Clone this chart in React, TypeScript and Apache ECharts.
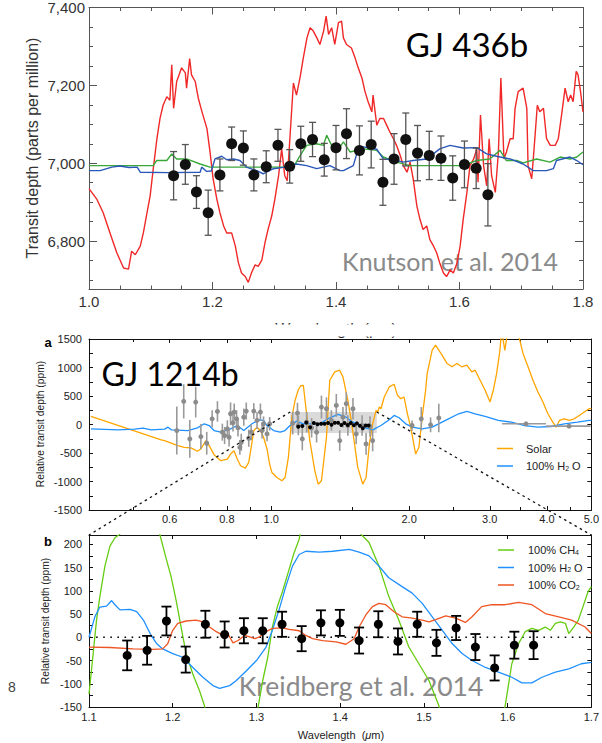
import React, { useEffect, useRef } from "react";
import * as echarts from "echarts";

// ---------------- Panel 1: GJ 436b (Knutson et al. 2014) ----------------
const gj436Wavelength = [1.137, 1.156, 1.174, 1.193, 1.212, 1.231, 1.25, 1.267, 1.287, 1.306, 1.325, 1.343, 1.362, 1.381, 1.4, 1.417, 1.438, 1.457, 1.476, 1.494, 1.513, 1.532, 1.551, 1.57, 1.589, 1.608, 1.627, 1.646];
const gj436Depth = [6968, 6997, 6926, 6873, 6970, 7050, 7039, 6970, 6991, 7046, 6992, 7050, 7061, 7009, 7040, 7076, 7033, 7048, 6951, 7011, 7061, 7026, 7020, 7013, 6962, 6997, 6987, 6919];
const gj436Error = [62, 51, 42, 58, 41, 43, 44, 41, 41, 41, 43, 45, 44, 42, 57, 64, 63, 60, 59, 65, 68, 71, 62, 57, 57, 60, 52, 80];
const gj436RedModel = [
  [1.0, 6935], [1.0125, 6908], [1.023, 6873], [1.034, 6821], [1.045, 6770], [1.056, 6731], [1.064, 6728], [1.069, 6774], [1.075, 6765], [1.083, 6787], [1.088, 6821], [1.093, 6865], [1.099, 6916], [1.104, 6985], [1.11, 7063], [1.115, 7115], [1.12, 7149], [1.126, 7171], [1.131, 7162], [1.134, 7253], [1.137, 7141], [1.142, 7210], [1.15, 7245], [1.156, 7232], [1.158, 7193], [1.163, 7269], [1.166, 7227], [1.172, 7210], [1.177, 7167], [1.183, 7132], [1.191, 7089], [1.196, 7029], [1.201, 6960], [1.207, 6908], [1.212, 6873], [1.218, 6839], [1.223, 6821], [1.231, 6821], [1.237, 6787], [1.242, 6744], [1.247, 6718], [1.253, 6709], [1.258, 6694], [1.263, 6718], [1.269, 6739], [1.274, 6735], [1.28, 6752], [1.285, 6796], [1.29, 6830], [1.296, 6865], [1.301, 6908], [1.307, 6968], [1.312, 7037], [1.317, 6968], [1.321, 6955], [1.326, 7081], [1.331, 7206], [1.336, 7175], [1.342, 7222], [1.347, 7270], [1.353, 7322], [1.358, 7348], [1.363, 7340], [1.369, 7322], [1.374, 7305], [1.38, 7340], [1.384, 7378], [1.388, 7331], [1.393, 7348], [1.398, 7305], [1.404, 7361], [1.409, 7365], [1.412, 7322], [1.417, 7305], [1.425, 7296], [1.431, 7270], [1.436, 7245], [1.442, 7219], [1.447, 7184], [1.452, 7158], [1.458, 7132], [1.46, 7175], [1.466, 7098], [1.471, 7115], [1.477, 7115], [1.482, 7098], [1.487, 7081], [1.493, 7063], [1.498, 7046], [1.504, 7020], [1.509, 6994], [1.515, 6977], [1.52, 7003], [1.525, 6960], [1.531, 6890], [1.536, 6856], [1.541, 6830], [1.547, 6839], [1.552, 6804], [1.558, 6787], [1.563, 6770], [1.568, 6744], [1.574, 6718], [1.579, 6709], [1.585, 6726], [1.59, 6718], [1.596, 6744], [1.601, 6787], [1.606, 6856], [1.612, 6925], [1.617, 6994], [1.623, 7011], [1.628, 7037], [1.63, 6951], [1.634, 7124], [1.639, 6994], [1.644, 6942], [1.648, 7063], [1.652, 6968], [1.658, 6925], [1.663, 7029], [1.667, 7219], [1.672, 7011], [1.676, 7029], [1.682, 7063], [1.687, 7063], [1.69, 7141], [1.695, 7184], [1.703, 7193], [1.709, 7141], [1.711, 6994], [1.717, 6960], [1.722, 7063], [1.726, 7149], [1.73, 7132], [1.736, 7141], [1.741, 7063], [1.747, 7046], [1.755, 7046], [1.76, 7063], [1.766, 7132], [1.771, 7193], [1.776, 7158], [1.78, 7175], [1.784, 7158], [1.789, 7236], [1.792, 7227], [1.796, 7184], [1.8, 7132],
];
const gj436BlueModel = [
  [1.0, 6981], [1.018, 6981], [1.037, 6990], [1.05, 6993], [1.065, 6989], [1.078, 6990], [1.083, 6977], [1.13, 6976], [1.18, 6977], [1.1825, 6990], [1.1906, 6979], [1.198, 6980], [1.204, 7011], [1.215, 7018], [1.223, 7009], [1.234, 7011], [1.2445, 7007], [1.255, 6990], [1.2716, 6981], [1.282, 6973], [1.2985, 6986], [1.3174, 6990], [1.336, 6998], [1.3525, 6994], [1.3687, 6986], [1.39, 6994], [1.4065, 6981], [1.412, 6981], [1.428, 6994], [1.436, 7037], [1.444, 7042], [1.466, 7036], [1.4766, 7011], [1.493, 7009], [1.509, 7003], [1.525, 7007], [1.547, 7011], [1.568, 7037], [1.5846, 7046], [1.606, 7039], [1.628, 7040], [1.644, 7024], [1.66, 7018], [1.682, 7011], [1.703, 6998], [1.7195, 6981], [1.741, 6981], [1.752, 6986], [1.757, 7007], [1.779, 7016], [1.79, 7007], [1.8, 6996],
];
const gj436GreenModel = [
  [1.0, 6994], [1.05, 6994], [1.104, 6994], [1.1096, 7007], [1.126, 7007], [1.134, 7024], [1.142, 7011], [1.158, 7011], [1.18, 6998], [1.196, 6990], [1.26, 6990], [1.331, 6990], [1.342, 7020], [1.3525, 7046], [1.369, 7050], [1.3795, 7046], [1.385, 7072], [1.3956, 7037], [1.4065, 7042], [1.412, 7055], [1.4227, 7029], [1.444, 7037], [1.466, 7033], [1.4766, 7016], [1.498, 7003], [1.52, 6994], [1.56, 6994], [1.606, 6994], [1.628, 7007], [1.649, 7011], [1.6656, 7033], [1.676, 7007], [1.6926, 7007], [1.703, 7001], [1.725, 7011], [1.7466, 7003], [1.763, 7016], [1.779, 7011], [1.79, 7016], [1.8, 7029],
];
const gj436XTicks = [1.0, 1.2, 1.4, 1.6, 1.8];
const gj436YTicks = [6800, 7000, 7200, 7400];

// ---------------- Panel a: GJ 1214b, broad spectrum ----------------
const solarModel = [
  [0.404, 141], [0.575, -270], [0.585, -282], [0.625, -370], [0.646, -400], [0.668, -411], [0.69, -470], [0.702, -429], [0.72, -282], [0.732, -370], [0.75, -529], [0.776, -635], [0.802, -606], [0.815, -518], [0.829, -459], [0.843, -606], [0.857, -723], [0.878, -765], [0.893, -664], [0.904, -400], [0.916, -106], [0.931, -47], [0.947, -106], [0.962, -224], [0.979, -429], [0.992, -694], [1.003, -841], [1.029, -929], [1.055, -988], [1.072, -929], [1.09, -576], [1.109, 129], [1.127, 420], [1.146, 610], [1.16, 680], [1.175, 688], [1.19, 306], [1.214, -282], [1.245, -812], [1.266, -1047], [1.287, -988], [1.32, -224], [1.342, 776], [1.376, 924], [1.411, 953], [1.434, 835], [1.47, 424], [1.495, 71], [1.52, -341], [1.545, -753], [1.584, -1047], [1.611, -929], [1.638, -341], [1.665, 12], [1.694, 247], [1.707, 218], [1.722, 306], [1.736, 277], [1.765, 482], [1.81, 659], [1.855, 706], [1.886, 512], [1.918, 453], [1.95, 482], [1.983, 188], [2.016, -47], [2.067, -518], [2.101, -400], [2.136, 129], [2.173, 600], [2.19, 894], [2.246, 1306], [2.284, 1394], [2.322, 1306], [2.36, 1218], [2.42, 1071], [2.481, 1012], [2.543, 1071], [2.607, 1012], [2.674, 1041], [2.741, 924], [2.788, 953], [2.858, 776], [2.931, 600], [3.004, 394], [3.054, 600], [3.105, 894], [3.158, 1306], [3.183, 1650], [3.237, 1300], [3.291, 1700], [3.43, 1650], [3.488, 1482], [3.546, 1247], [3.636, 1012], [3.728, 776], [3.822, 571], [3.919, 394], [4.018, 188], [4.119, 41], [4.188, -47], [4.259, 71], [4.365, 100], [4.475, 71], [4.588, 100], [4.705, 159], [4.824, 218], [4.945, 277], [5.0, 280],
];
const waterModelWide = [
  [0.404, -76], [0.463, -94], [0.503, -82], [0.525, -65], [0.547, -94], [0.585, -82], [0.595, -47], [0.605, -94], [0.657, -106], [0.69, -59], [0.714, 12], [0.732, -18], [0.75, -106], [0.776, -135], [0.815, -76], [0.843, -18], [0.871, -106], [0.908, 12], [0.939, 82], [0.962, 71], [0.979, -18], [1.012, -106], [1.046, -135], [1.072, -106], [1.099, -18], [1.137, 59], [1.175, 12], [1.214, 12], [1.276, 12], [1.342, 118], [1.399, 176], [1.458, 129], [1.507, 41], [1.584, -47], [1.665, -94], [1.736, -18], [1.81, 82], [1.855, 159], [1.902, 118], [1.966, 12], [2.033, -47], [2.136, -76], [2.246, -47], [2.401, 71], [2.566, 188], [2.674, 229], [2.788, 188], [2.931, 141], [3.131, 71], [3.345, 41], [3.577, -18], [3.822, -47], [4.083, -35], [4.365, 12], [4.666, 41], [4.945, 71], [5.0, 72],
];
// [wavelength, depth, error]
const grayPoints = [
  [0.622, -106, 420], [0.644, 406, 300], [0.664, -253, 330], [0.684, 394, 270], [0.702, -212, 220], [0.723, -329, 200], [0.743, 100, 150], [0.763, 229, 180], [0.782, -135, 150], [0.791, -194, 150], [0.802, -76, 150], [0.809, -224, 160], [0.815, 188, 200], [0.825, 29, 150], [0.83, 218, 150], [0.84, 100, 150], [0.846, -59, 150], [0.854, -400, 130], [0.86, -312, 150], [0.871, 129, 150], [0.882, 235, 150], [0.893, -241, 150], [0.904, -135, 140], [0.916, 235, 140], [0.931, 71, 150], [0.947, 218, 150], [0.955, -106, 140], [0.962, 12, 130], [0.979, -165, 130], [0.992, 12, 120],
  [1.114, 24, 200], [1.141, 200, 180], [1.146, -18, 170], [1.169, -253, 200], [1.195, 41, 180], [1.225, -59, 170], [1.256, -135, 180], [1.287, 306, 200], [1.32, 276, 200], [1.353, 71, 180], [1.387, 335, 200], [1.411, -282, 180], [1.434, 129, 180], [1.458, 365, 200], [1.47, -18, 180], [1.508, 276, 190], [1.533, -165, 180], [1.579, -18, 180], [1.611, -341, 190], [1.643, -35, 180], [1.665, -282, 190],
  [2.03, -18, 90], [2.126, 100, 206], [2.228, -6, 130], [2.322, 115, 250],
];
// [lower wavelength, upper wavelength, centre wavelength, depth]
const wideBins = [
  [3.19, 3.98, 3.6, 12],
  [3.98, 4.98, 4.47, -29],
];
const panelAXTicks = [0.6, 0.8, 1.0, 2.0, 3.0, 4.0, 5.0];
const panelAXMinor = [0.5, 0.7, 0.9, 1.5, 2.5, 3.5, 4.5];
const panelAYTicks = [-1500, -1000, -500, 0, 500, 1000, 1500];

// ---------------- Panel b: GJ 1214b (Kreidberg et al. 2014) ----------------
const kreidbergWavelength = [1.1456, 1.1694, 1.1925, 1.2155, 1.239, 1.262, 1.285, 1.3075, 1.3306, 1.354, 1.377, 1.3996, 1.4226, 1.4456, 1.469, 1.492, 1.515, 1.5385, 1.5615, 1.5845, 1.608, 1.631];
const kreidbergDepth = [-39, -28, 35, -48, 28, 6, 14, 14, 28, -3, 31, 31, -7, 28, -9, 28, -12, 20, -21, -66, -17, -17];
const kreidbergError = [32, 31, 31, 28, 29, 28, 27, 27, 27, 27, 27, 28, 28, 28, 28, 27, 28, 26, 28, 27, 29, 30];
const ch4Model = [
  [1.1, -122], [1.105, -35], [1.109, 37], [1.113, 88], [1.119, 153], [1.125, 196], [1.131, 214], [1.137, 222], [1.15, 330], [1.175, 330], [1.1845, 222], [1.1925, 167], [1.198, 131], [1.204, 80], [1.21, 22], [1.216, -35], [1.224, -79], [1.232, -115], [1.238, -148], [1.25, -260], [1.29, -260], [1.3015, -155], [1.3075, -93], [1.3135, -43], [1.319, 22], [1.325, 66], [1.331, 98], [1.339, 146], [1.345, 182], [1.351, 211], [1.365, 330], [1.41, 330], [1.4246, 222], [1.4345, 204], [1.4464, 153], [1.458, 88], [1.47, 37], [1.482, -21], [1.494, -57], [1.506, -93], [1.518, -148], [1.53, -260], [1.585, -260], [1.597, -148], [1.605, -57], [1.613, -14], [1.621, 12], [1.629, 19], [1.637, 15], [1.645, 22], [1.651, 15], [1.657, 30], [1.663, 33], [1.669, 30], [1.673, 8], [1.679, 22], [1.6845, 37], [1.69, 66], [1.696, 98], [1.7, 109],
];
const h2oModel = [
  [1.1, 0], [1.107, 44], [1.113, 65], [1.121, 67], [1.127, 79], [1.131, 70], [1.137, 59], [1.149, 60], [1.157, 55], [1.165, 37], [1.173, 8], [1.181, -14], [1.188, -25], [1.2, -35], [1.212, -43], [1.224, -65], [1.236, -86], [1.248, -104], [1.256, -110], [1.268, -104], [1.276, -93], [1.288, -72], [1.3, -50], [1.3115, -21], [1.319, 15], [1.327, 59], [1.335, 109], [1.343, 153], [1.351, 178], [1.359, 185], [1.375, 183], [1.391, 185], [1.411, 189], [1.4226, 183], [1.4345, 175], [1.4464, 153], [1.458, 128], [1.474, 109], [1.486, 95], [1.498, 73], [1.51, 44], [1.522, 15], [1.534, -14], [1.5456, -35], [1.5575, -50], [1.5735, -65], [1.589, -75], [1.605, -86], [1.617, -98], [1.629, -98], [1.641, -86], [1.657, -75], [1.673, -68], [1.688, -57], [1.7, -54],
];
const co2Model = [
  [1.1, -21], [1.125, -22], [1.153, -25], [1.1765, -26], [1.188, -25], [1.194, -14], [1.2, 15], [1.206, 30], [1.216, 35], [1.228, 37], [1.236, 33], [1.244, 22], [1.252, 12], [1.26, 4], [1.266, 7], [1.272, -12], [1.278, -7], [1.286, 4], [1.292, 1], [1.298, -3], [1.3036, 1], [1.3115, 12], [1.319, 19], [1.331, 20], [1.339, 17], [1.351, 14], [1.359, 4], [1.367, -3], [1.379, -7], [1.395, -10], [1.4068, -15], [1.4167, -3], [1.4226, 22], [1.4306, 48], [1.4385, 66], [1.4464, 73], [1.4544, 70], [1.4643, 55], [1.474, 44], [1.486, 41], [1.498, 37], [1.506, 33], [1.514, 38], [1.526, 46], [1.538, 41], [1.5496, 32], [1.5575, 44], [1.569, 66], [1.581, 70], [1.597, 70], [1.613, 75], [1.629, 70], [1.645, 51], [1.661, 44], [1.6765, 37], [1.6925, 22], [1.7, 8],
];
const zeroLevel = [[1.1, 0], [1.7, 0]];
const panelBXTicks = [1.1, 1.2, 1.3, 1.4, 1.5, 1.6, 1.7];
const panelBYTicks = [-150, -100, -50, 0, 50, 100, 150, 200];

// ---------------- helpers ----------------
const SANS = '"Liberation Sans", Arial, Helvetica, sans-serif';
const HUM = 'Lato, "Open Sans", sans-serif';
const log = (v: number) => Math.log10(v);

function steps(a: number, b: number, s: number, skip: number[]) {
  const out: number[] = [];
  for (let i = 0; a + i * s <= b + 1e-9; i++) {
    const v = +(a + i * s).toFixed(6);
    if (!skip.some((m) => Math.abs(m - v) < 1e-6)) out.push(v);
  }
  return out;
}

type AxisSpec = {
  grid: number;
  min: number;
  max: number;
  majors: number[];
  minors: number[];
  majorLen: number;
  minorLen: number;
  color: string;
  label: any;
};

function axisSet(spec: AxisSpec, posA: string, posB: string) {
  const one = (position: string, ticks: number[], len: number, line: boolean, label: any) => ({
    type: "value",
    gridIndex: spec.grid,
    position,
    min: spec.min,
    max: spec.max,
    axisLine: { show: line, onZero: false, lineStyle: { color: spec.color, width: 1 } },
    axisTick: { show: ticks.length > 0, inside: true, length: len, customValues: ticks, lineStyle: { color: spec.color, width: 1 } },
    axisLabel: label ? { show: true, customValues: spec.majors, ...label } : { show: false },
    splitLine: { show: false },
  });
  return [
    one(posA, spec.majors, spec.majorLen, true, spec.label),
    one(posA, spec.minors, spec.minorLen, false, null),
    one(posB, spec.majors, spec.majorLen, true, null),
    one(posB, spec.minors, spec.minorLen, false, null),
  ];
}

function errorBars(xi: number, data: number[][], color: string, cap: number, width: number, z: number) {
  return {
    type: "custom",
    xAxisIndex: xi,
    yAxisIndex: xi,
    z,
    silent: true,
    data,
    renderItem: (_p: any, api: any) => {
      const x = api.value(0);
      const y = api.value(1);
      const e = api.value(2);
      const a = api.coord([x, y + e]);
      const b = api.coord([x, y - e]);
      const st = { stroke: color, lineWidth: width };
      const children: any[] = [{ type: "line", shape: { x1: a[0], y1: a[1], x2: b[0], y2: b[1] }, style: st }];
      if (cap > 0) {
        children.push({ type: "line", shape: { x1: a[0] - cap, y1: a[1], x2: a[0] + cap, y2: a[1] }, style: st });
        children.push({ type: "line", shape: { x1: b[0] - cap, y1: b[1], x2: b[0] + cap, y2: b[1] }, style: st });
      }
      return { type: "group", children };
    },
  };
}

function lineSeries(xi: number, data: number[][], color: string, width: number, z: number, extra: any = {}) {
  return {
    type: "line",
    xAxisIndex: xi,
    yAxisIndex: xi,
    data,
    z,
    showSymbol: false,
    symbol: "none",
    silent: true,
    clip: true,
    lineStyle: { color, width, ...extra },
  };
}

function dots(xi: number, data: number[][], color: string, size: number, z: number) {
  return { type: "scatter", xAxisIndex: xi, yAxisIndex: xi, z, silent: true, symbolSize: size, itemStyle: { color, opacity: 1 }, data };
}

export default function App() {
  const ref = useRef<HTMLDivElement>(null);

  useEffect(() => {
    document.body.style.margin = "0";
    if (!ref.current) return;
    const chart = echarts.init(ref.current, undefined, { renderer: "svg" });

    const topLabel = { fontSize: 15, color: "#333", fontFamily: SANS, margin: 5 };
    const smallLabel = { fontSize: 11, color: "#222", fontFamily: SANS };

    const xAxes = [
      ...axisSet({ grid: 0, min: 1.0, max: 1.8, majors: gj436XTicks, minors: steps(1.0, 1.8, 0.05, gj436XTicks), majorLen: 7, minorLen: 3.5, color: "#555", label: { ...topLabel, formatter: (v: number) => v.toFixed(1) } }, "bottom", "top"),
      ...axisSet({ grid: 1, min: log(0.4), max: log(5), majors: panelAXTicks.map(log), minors: panelAXMinor.map(log), majorLen: 4, minorLen: 3, color: "#111", label: { ...smallLabel, margin: 3, formatter: (v: number) => Math.pow(10, v).toFixed(1) } }, "bottom", "top"),
      ...axisSet({ grid: 2, min: 1.1, max: 1.7, majors: panelBXTicks, minors: [], majorLen: 4, minorLen: 3, color: "#111", label: { ...smallLabel, margin: 4, formatter: (v: number) => v.toFixed(1) } }, "bottom", "top"),
    ];
    const yAxes = [
      ...axisSet({ grid: 0, min: 6677, max: 7400, majors: gj436YTicks, minors: steps(6700, 7400, 50, gj436YTicks), majorLen: 8, minorLen: 4, color: "#555", label: { ...topLabel, margin: 4, formatter: (v: number) => v.toLocaleString("en-US") } }, "left", "right"),
      ...axisSet({ grid: 1, min: -1500, max: 1500, majors: panelAYTicks, minors: steps(-1500, 1500, 250, panelAYTicks), majorLen: 4, minorLen: 4, color: "#111", label: { ...smallLabel, margin: 7, formatter: (v: number) => String(v) } }, "left", "right"),
      ...axisSet({ grid: 2, min: -150, max: 220, majors: panelBYTicks, minors: steps(-150, 200, 25, panelBYTicks), majorLen: 4, minorLen: 4, color: "#111", label: { ...smallLabel, margin: 7, formatter: (v: number) => String(v) } }, "left", "right"),
    ];

    const bRange = { yMin: -150, yMax: 220, xMin: 1.1, xMax: 1.7 };

    const gj436Points = gj436Wavelength.map((w, i) => [w, gj436Depth[i], gj436Error[i]]);
    const kreidbergPoints = kreidbergWavelength.map((w, i) => [w, kreidbergDepth[i], kreidbergError[i]]);

    const series: any[] = [
      // top panel
      lineSeries(0, gj436RedModel, "#f02828", 1.4, 2),
      lineSeries(0, gj436GreenModel, "#3aa83a", 1.4, 3),
      lineSeries(0, gj436BlueModel, "#2a58b8", 1.4, 3),
      errorBars(0, gj436Points, "#555", 3.5, 1.3, 4),
      dots(0, gj436Points.map((p) => [p[0], p[1]]), "#111", 11, 5),
      // middle panel
      {
        type: "custom",
        xAxisIndex: 4,
        yAxisIndex: 4,
        z: 1,
        silent: true,
        data: [[log(bRange.xMin), bRange.yMin, log(bRange.xMax), bRange.yMax]],
        renderItem: (_p: any, api: any) => {
          const a = api.coord([api.value(0), api.value(3)]);
          const b = api.coord([api.value(2), api.value(1)]);
          return { type: "rect", shape: { x: a[0], y: a[1], width: b[0] - a[0], height: b[1] - a[1] }, style: { fill: "#dadada" } };
        },
      },
      lineSeries(4, solarModel.map((p) => [log(p[0]), p[1]]), "#ffa500", 1.3, 3),
      lineSeries(4, waterModelWide.map((p) => [log(p[0]), p[1]]), "#1e90ff", 1.3, 3),
      errorBars(4, grayPoints.map((p) => [log(p[0]), p[1], p[2]]), "#9a9a9a", 0, 1.6, 4),
      {
        type: "custom",
        xAxisIndex: 4,
        yAxisIndex: 4,
        z: 4,
        silent: true,
        data: wideBins.map((b) => [log(b[0]), log(b[1]), b[3]]),
        renderItem: (_p: any, api: any) => {
          const a = api.coord([api.value(0), api.value(2)]);
          const b = api.coord([api.value(1), api.value(2)]);
          return { type: "line", shape: { x1: a[0], y1: a[1], x2: b[0], y2: b[1] }, style: { stroke: "#9a9a9a", lineWidth: 1.6 } };
        },
      },
      dots(4, [...grayPoints.map((p) => [log(p[0]), p[1]]), ...wideBins.map((b) => [log(b[2]), b[3]])], "#8c8c8c", 5, 5),
      dots(4, kreidbergPoints.map((p) => [log(p[0]), p[1]]), "#000", 4, 6),
      // bottom panel
      lineSeries(8, zeroLevel, "#000", 1.6, 2, { type: [1.6, 5.5] }),
      lineSeries(8, ch4Model, "#66cc11", 1.3, 3),
      lineSeries(8, h2oModel, "#1e90ff", 1.3, 3),
      lineSeries(8, co2Model, "#ee5522", 1.3, 3),
      errorBars(8, kreidbergPoints, "#000", 5, 1.8, 4),
      dots(8, kreidbergPoints.map((p) => [p[0], p[1]]), "#000", 9, 5),
    ];

    chart.setOption({
      animation: false,
      textStyle: { fontFamily: SANS },
      grid: [
        { left: 89, top: 7, width: 494, height: 282 },
        { left: 89, top: 339, width: 504, height: 171 },
        { left: 89, top: 535, width: 504, height: 172 },
      ],
      xAxis: xAxes,
      yAxis: yAxes,
      series,
    });

    const tl = chart.convertToPixel({ xAxisIndex: 4, yAxisIndex: 4 } as any, [log(bRange.xMin), bRange.yMax]) as number[];
    const tr = chart.convertToPixel({ xAxisIndex: 4, yAxisIndex: 4 } as any, [log(bRange.xMax), bRange.yMax]) as number[];
    const bl = chart.convertToPixel({ xAxisIndex: 8, yAxisIndex: 8 } as any, [bRange.xMin, bRange.yMax]) as number[];
    const br = chart.convertToPixel({ xAxisIndex: 8, yAxisIndex: 8 } as any, [bRange.xMax, bRange.yMax]) as number[];

    const txt = (x: number, y: number, text: string, o: any = {}, extra: any = {}) => ({
      type: "text",
      x,
      y,
      z: 0,
      silent: true,
      ...extra,
      style: { text, fill: "#222", fontFamily: SANS, fontSize: 11, align: "left", verticalAlign: "middle", ...o },
    });
    const sub = { s: { fontSize: 7, lineHeight: 6, verticalAlign: "bottom", fontFamily: SANS, fill: "#222" } };
    const legendLine = (x: number, y: number, color: string) => ({
      type: "line",
      silent: true,
      shape: { x1: x, y1: y, x2: x + 16, y2: y },
      style: { stroke: color, lineWidth: 1.5 },
    });
    const dotted = (a: number[], b: number[]) => ({
      type: "line",
      z: 100,
      silent: true,
      shape: { x1: a[0], y1: a[1], x2: b[0], y2: b[1] },
      style: { stroke: "#111", lineWidth: 1.3, lineDash: [2.5, 3.5] },
    });

    chart.setOption({
      graphic: {
        elements: [
          // panel titles / credits
          txt(467, 44, "GJ 436b", { fontFamily: HUM, fontSize: 33, fill: "#000", align: "center" }),
          txt(450, 261, "Knutson et al. 2014", { fontFamily: HUM, fontSize: 25, fill: "#8a8a8a", align: "center" }),
          txt(170, 373, "GJ 1214b", { fontFamily: HUM, fontSize: 32, fill: "#000", align: "center" }),
          txt(361, 686, "Kreidberg et al. 2014", { fontFamily: HUM, fontSize: 26.5, fill: "#8a8a8a", align: "center" }),
          txt(48, 342, "a", { fontSize: 13, fontWeight: "bold", fill: "#000", align: "center" }),
          txt(48, 541, "b", { fontSize: 13, fontWeight: "bold", fill: "#000", align: "center" }),
          txt(12, 687, "8", { fontSize: 14, fill: "#444", align: "center" }),
          // axis titles
          txt(32, 148, "Transit depth (parts per million)", { fontSize: 16, fill: "#333", align: "center" }, { rotation: Math.PI / 2 }),
          txt(336, 329, "Wavelength (\u03bcm)", { fontSize: 16, fill: "#333", align: "center" }),
          { type: "rect", z: 1, silent: true, shape: { x: 240, y: 324.5, width: 200, height: 12 }, style: { fill: "#fff" } },
          txt(40, 424, "Relative transit depth (ppm)", { fontSize: 10.3, align: "center" }, { rotation: Math.PI / 2 }),
          txt(45, 621, "Relative transit depth (ppm)", { fontSize: 10.3, align: "center" }, { rotation: Math.PI / 2 }),
          txt(341, 735, "Wavelength  ({i|\u03bc}m)", { fontSize: 11, align: "center", rich: { i: { fontStyle: "italic", fontSize: 11, fontFamily: SANS, fill: "#222" } } }),
          // legend, panel a
          legendLine(497, 448.5, "#ffa500"),
          txt(526, 448.5, "Solar"),
          legendLine(497, 466, "#1e90ff"),
          txt(526, 466, "100% H{s|2} O", { rich: sub }),
          // legend, panel b
          legendLine(498, 550, "#66cc11"),
          txt(528, 550, "100% CH{s|4}", { rich: sub }),
          legendLine(498, 567.5, "#1e90ff"),
          txt(528, 567.5, "100% H{s|2} O", { rich: sub }),
          legendLine(498, 585, "#ee5522"),
          txt(528, 585, "100% CO{s|2}", { rich: sub }),
          // zoom connectors
          dotted(tl, bl),
          dotted(tr, br),
        ],
      },
    });

    return () => chart.dispose();
  }, []);

  return <div ref={ref} style={{ width: 602, height: 743, background: "#fff" }} />;
}
